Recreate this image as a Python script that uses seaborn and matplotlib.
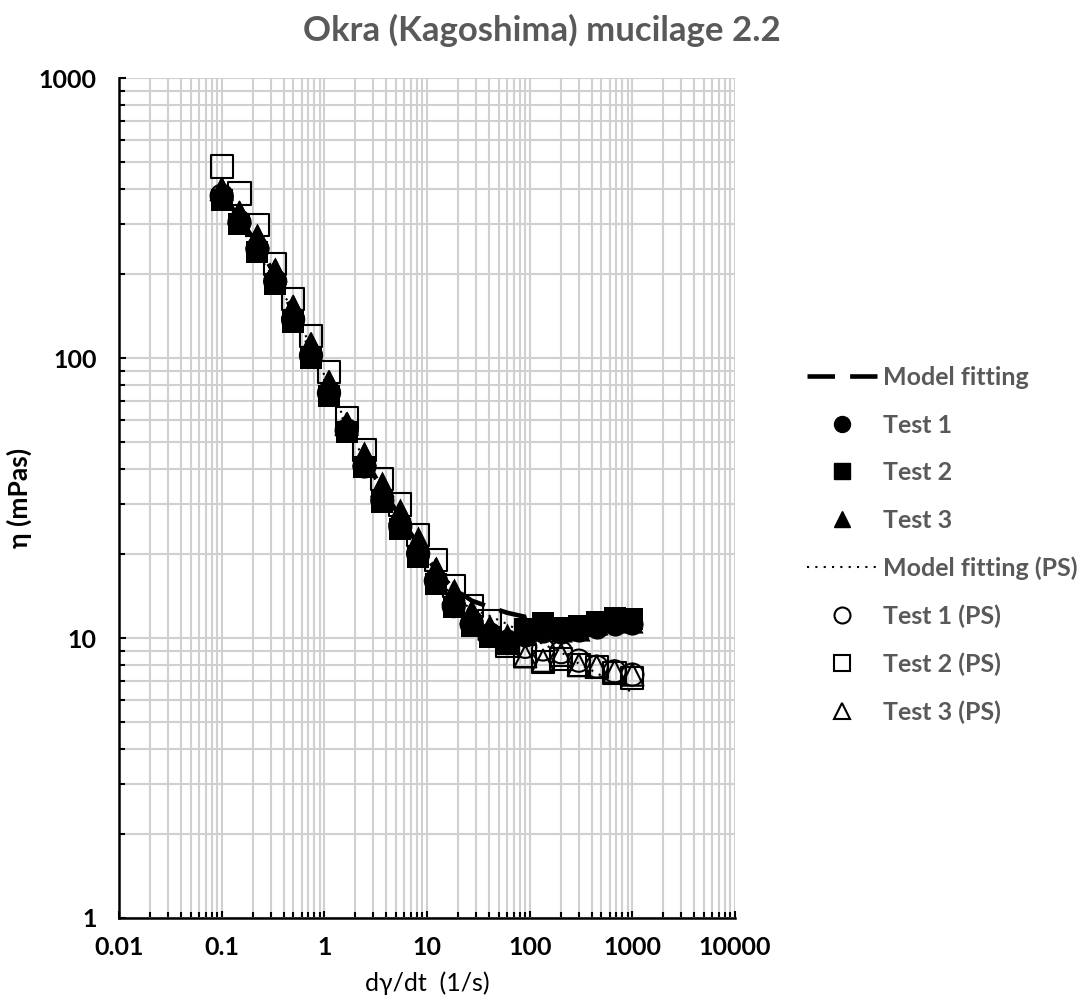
import matplotlib
matplotlib.use("Agg")
import matplotlib.pyplot as plt
import seaborn as sns
import pandas as pd
from matplotlib.ticker import LogLocator, FixedLocator, FixedFormatter, NullFormatter
from matplotlib.lines import Line2D

# Shear rate (1/s)
shear_rate = [0.1, 0.149, 0.223, 0.332, 0.496, 0.741, 1.11, 1.65, 2.46, 3.67, 5.49, 8.19,
              12.2, 18.2, 27.2, 40.6, 60.7, 90.5, 135, 202, 301, 449, 671, 1000]

# Viscosity (mPas)
model_fit = [390, 315, 255, 197, 146, 107, 79, 58, 44, 34, 27, 21.5,
             17.5, 15, 13.6, 12.9, 12.3, 11.9, 11.6, 11.4, 11.3, 11.2, 11.2, 11.1]
test1 = [375, 310, 250, 190, 140, 103, 76, 56, 42, 32, 25.5, 19.6,
         16, 13.3, 11.5, 10.4, 9.8, 10.2, 10.5, 10.4, 10.6, 10.9, 11.1, 11.2]
test2 = [368, 300, 240, 184, 135, 100, 73, 54.4, 40.8, 30.6, 24.5, 19.5,
         15.6, 12.9, 11.0, 10.1, 9.6, 10.8, 11.3, 10.9, 11.0, 11.4, 11.8, 11.7]
test3 = [405, 335, 277, 209, 155, 113, 83, 59, 46, 36, 29, 23,
         18, 15, 12.5, 11, 10.3, 11.1, 10.9, 10.6, 10.7, 11.2, 11.5, 11.4]

model_fit_ps = [363, 300, 235, 190, 148, 110, 80, 58, 43, 33, 26, 20.5,
                16.5, 14, 12.7, 12.0, 11.2, 10.3, 9.5, 8.9, 8.1, 7.5, 6.9, 6.4]
test1_ps = [380, 305, 245, 188, 137, 102, 75, 55, 41, 31, 25, 20,
            16, 13, 11.2, 10.2, 9.6, 9.3, 9.1, 8.9, 8.3, 7.9, 7.6, 7.4]
test2_ps = [483, 387, 298, 217, 162, 120, 89, 61, 47, 37, 30, 23.3,
            19, 15.3, 13, 11.5, 9.4, 8.6, 8.2, 8.4, 8.0, 7.9, 7.5, 7.2]
test3_ps = [400, 330, 270, 205, 152, 112, 82, 58, 45, 35, 28, 22,
            17.5, 14.5, 12.3, 10.8, 9.6, 8.6, 8.3, 8.7, 8.0, 7.9, 7.6, 7.4]

x_ticks = [0.01, 0.1, 1, 10, 100, 1000, 10000]
x_tick_labels = ["0.01", "0.1", "1", "10", "100", "1000", "10000"]
y_ticks = [1, 10, 100, 1000]
y_tick_labels = ["1", "10", "100", "1000"]

sns.set_theme(style="white")
plt.rcParams["font.family"] = ["Lato", "DejaVu Sans"]

fig = plt.figure(figsize=(10.83, 10.07), dpi=100)
ax = fig.add_axes([0.1099, 0.0884, 0.5688, 0.8341])

df = pd.DataFrame({"rate": shear_rate, "model": model_fit, "t1": test1, "t2": test2, "t3": test3,
                   "model_ps": model_fit_ps, "t1_ps": test1_ps, "t2_ps": test2_ps, "t3_ps": test3_ps})

MS = 255
dash_style = (0, (6, 3.3))
dot_style = (0, (1, 3))

sns.lineplot(data=df, x="rate", y="model", ax=ax, color="black", lw=3.3,
             linestyle=dash_style, zorder=3)
sns.scatterplot(data=df, x="rate", y="t1", ax=ax, marker="o", s=MS, color="black",
                edgecolor="black", linewidth=0, zorder=4)
sns.scatterplot(data=df, x="rate", y="t2", ax=ax, marker="s", s=MS, color="black",
                edgecolor="black", linewidth=0, zorder=4)
sns.scatterplot(data=df, x="rate", y="t3", ax=ax, marker="^", s=MS, color="black",
                edgecolor="black", linewidth=0, zorder=4)
sns.lineplot(data=df, x="rate", y="model_ps", ax=ax, color="black", lw=1.5,
             linestyle=dot_style, zorder=5)
for col, mk in [("t1_ps", "o"), ("t2_ps", "s"), ("t3_ps", "^")]:
    sns.scatterplot(data=df, x="rate", y=col, ax=ax, marker=mk, s=MS, color="black",
                    linewidth=1.5, zorder=6)
    coll = ax.collections[-1]
    coll.set_facecolor("none")
    coll.set_edgecolor("black")

ax.set_xscale("log")
ax.set_yscale("log")
ax.set_xlim(0.01, 10000)
ax.set_ylim(1, 1000)

ax.xaxis.set_major_locator(FixedLocator(x_ticks))
ax.xaxis.set_major_formatter(FixedFormatter(x_tick_labels))
ax.yaxis.set_major_locator(FixedLocator(y_ticks))
ax.yaxis.set_major_formatter(FixedFormatter(y_tick_labels))
for axis in (ax.xaxis, ax.yaxis):
    axis.set_minor_locator(LogLocator(base=10, subs=range(2, 10), numticks=20))
    axis.set_minor_formatter(NullFormatter())

ax.grid(True, which="both", color="#d0d0d0", lw=1.5, zorder=0)
ax.set_axisbelow(True)
for side in ("top", "right"):
    ax.spines[side].set_visible(False)
for side in ("left", "bottom"):
    ax.spines[side].set_color("black")
    ax.spines[side].set_linewidth(1.8)

ax.tick_params(which="both", direction="in", color="black", width=1.5,
               bottom=True, left=True)
ax.tick_params(which="major", length=5)
ax.tick_params(which="minor", length=4)
ax.tick_params(axis="y", which="major", pad=16, labelsize=18)
ax.tick_params(axis="x", which="major", pad=13, labelsize=18)
for lbl in ax.get_xticklabels() + ax.get_yticklabels():
    lbl.set_fontweight("bold")
    lbl.set_color("black")

ax.set_xlabel("dγ/dt  (1/s)", fontsize=18, color="black", labelpad=9)
ax.set_ylabel("η (mPas)", fontsize=19, fontweight="bold", color="black", labelpad=5)

fig.suptitle("Okra (Kagoshima) mucilage 2.2", x=0.5, y=0.986, fontsize=25,
             fontweight="bold", color="#595959")

handles = [
    Line2D([], [], color="black", lw=3.3, linestyle=dash_style),
    Line2D([], [], color="black", marker="o", ls="none", markersize=11.5),
    Line2D([], [], color="black", marker="s", ls="none", markersize=11.5),
    Line2D([], [], color="black", marker="^", ls="none", markersize=11.5),
    Line2D([], [], color="black", lw=1.5, linestyle=dot_style),
    Line2D([], [], color="black", marker="o", ls="none", markersize=11.5,
           markerfacecolor="none", markeredgewidth=1.5),
    Line2D([], [], color="black", marker="s", ls="none", markersize=11.5,
           markerfacecolor="none", markeredgewidth=1.5),
    Line2D([], [], color="black", marker="^", ls="none", markersize=11.5,
           markerfacecolor="none", markeredgewidth=1.5),
]
labels = ["Model fitting", "Test 1", "Test 2", "Test 3",
          "Model fitting (PS)", "Test 1 (PS)", "Test 2 (PS)", "Test 3 (PS)"]
leg = fig.legend(handles, labels, loc="upper left", bbox_to_anchor=(0.745, 0.6365),
                 frameon=False, fontsize=18, handlelength=2.8, handletextpad=0.24,
                 labelspacing=0.98, borderpad=0, borderaxespad=0)
for t in leg.get_texts():
    t.set_color("#595959")
    t.set_fontweight("bold")

fig.savefig("out.png", dpi=100)
